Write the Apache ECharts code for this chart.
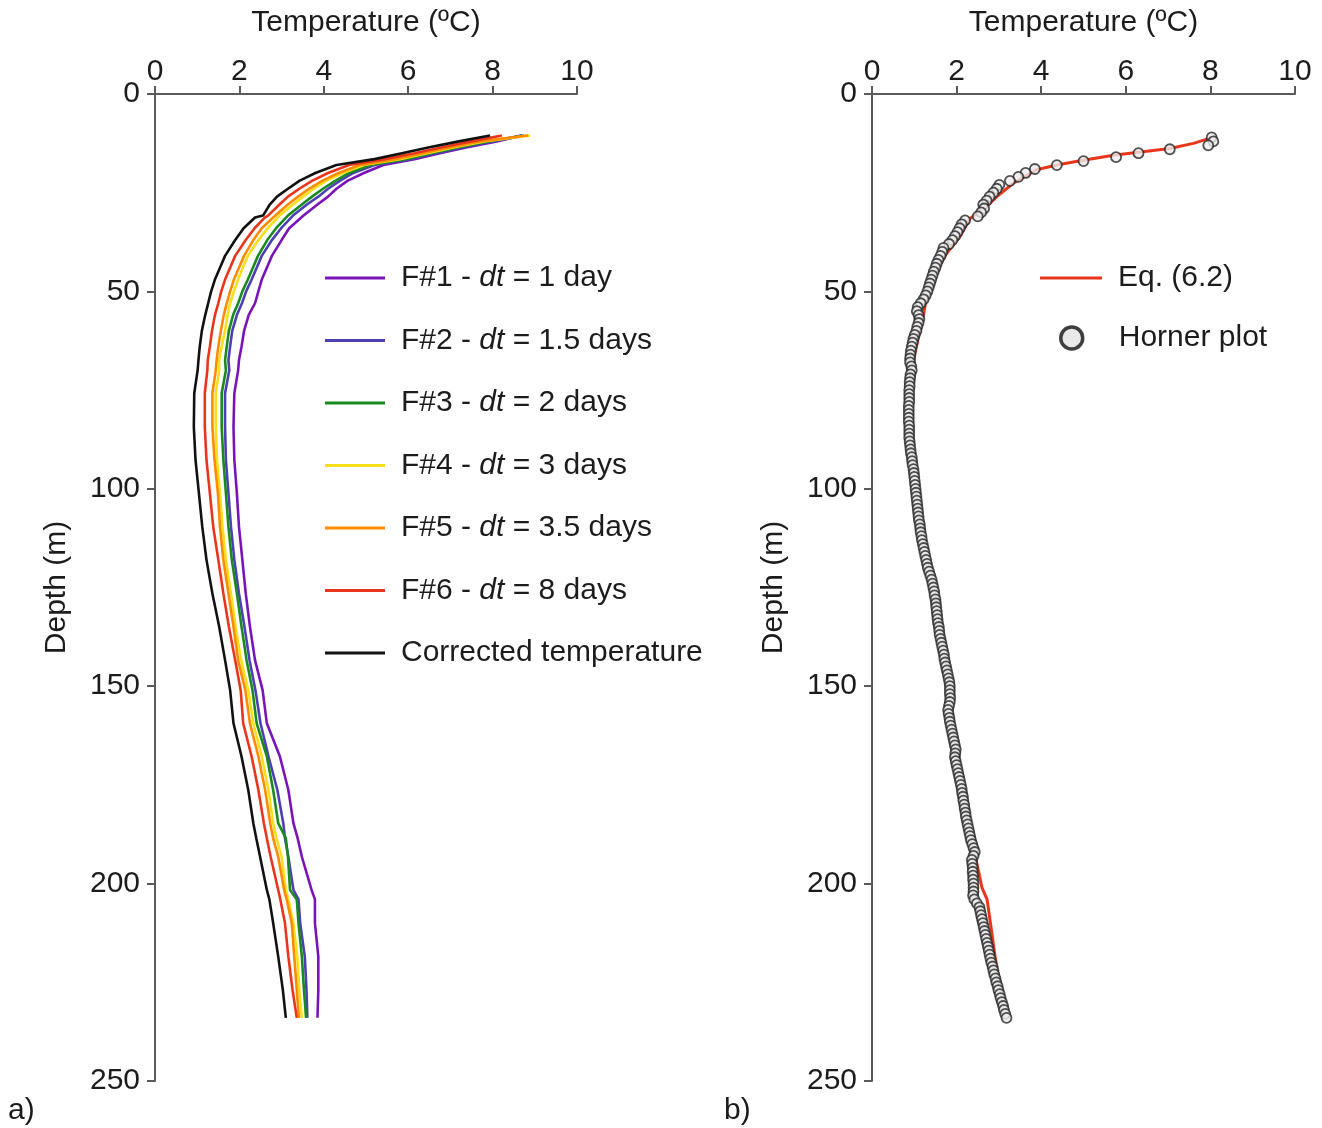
<!DOCTYPE html>
<html><head><meta charset="utf-8">
<script src="https://cdn.jsdelivr.net/npm/echarts@6/dist/echarts.min.js"></script>
<style>html,body{margin:0;padding:0;background:#fff}#c{width:1322px;height:1128px}</style>
</head><body><div id="c"></div>
<script>
// ---------- Panel a) ----------
const depthA = [10.5, 12, 13.5, 15, 16.5, 18, 20, 22, 24, 26, 28, 30.8, 31.3, 34, 37, 41, 44, 47, 50, 53, 56, 60, 64, 67.4, 70, 75.8, 84.3, 92.7, 101.1, 109.6, 118, 126.5, 134.9, 143.4, 151, 159.4, 167.8, 176.3, 184.7, 188.5, 193.2, 201.6, 204, 210, 218.5, 227, 234];
const tempF1 = [8.7, 8.1, 7.4, 6.75, 6.15, 5.41, 4.95, 4.56, 4.3, 4.1, 3.85, 3.52, 3.48, 3.18, 3.0, 2.77, 2.65, 2.53, 2.45, 2.37, 2.22, 2.11, 2.05, 1.99, 1.97, 1.88, 1.86, 1.88, 1.94, 1.99, 2.07, 2.15, 2.25, 2.37, 2.55, 2.65, 2.96, 3.16, 3.28, 3.38, 3.48, 3.71, 3.79, 3.79, 3.87, 3.87, 3.85];
const tempF2 = [8.69, 8.0, 7.3, 6.65, 6.05, 5.2, 4.7, 4.38, 4.1, 3.87, 3.6, 3.27, 3.24, 2.99, 2.77, 2.53, 2.41, 2.29, 2.16, 2.06, 1.94, 1.83, 1.78, 1.74, 1.76, 1.66, 1.66, 1.68, 1.74, 1.80, 1.88, 1.99, 2.12, 2.24, 2.38, 2.50, 2.69, 2.90, 3.04, 3.08, 3.16, 3.28, 3.40, 3.44, 3.55, 3.59, 3.61];
const tempF3 = [8.75, 7.9, 7.2, 6.55, 5.95, 5.1, 4.6, 4.27, 3.98, 3.72, 3.48, 3.15, 3.12, 2.87, 2.66, 2.44, 2.32, 2.20, 2.07, 1.97, 1.85, 1.75, 1.70, 1.66, 1.68, 1.58, 1.58, 1.62, 1.68, 1.74, 1.82, 1.94, 2.05, 2.17, 2.31, 2.41, 2.65, 2.80, 2.92, 3.10, 3.15, 3.20, 3.36, 3.40, 3.48, 3.53, 3.58];
const tempF4 = [8.89, 7.8, 7.1, 6.45, 5.8, 4.95, 4.45, 4.05, 3.76, 3.51, 3.27, 2.95, 2.91, 2.67, 2.45, 2.20, 2.08, 1.97, 1.87, 1.78, 1.72, 1.66, 1.58, 1.52, 1.52, 1.44, 1.44, 1.47, 1.54, 1.60, 1.68, 1.80, 1.91, 2.04, 2.21, 2.33, 2.53, 2.69, 2.80, 2.88, 3.00, 3.10, 3.16, 3.28, 3.37, 3.42, 3.48];
const tempF5 = [8.84, 7.7, 7.0, 6.35, 5.7, 4.85, 4.35, 3.96, 3.65, 3.39, 3.15, 2.85, 2.80, 2.53, 2.33, 2.11, 1.99, 1.87, 1.78, 1.70, 1.63, 1.56, 1.50, 1.46, 1.44, 1.36, 1.36, 1.41, 1.49, 1.54, 1.62, 1.74, 1.86, 1.97, 2.14, 2.25, 2.45, 2.61, 2.73, 2.80, 2.92, 3.06, 3.12, 3.24, 3.30, 3.36, 3.41];
const tempF6 = [8.22, 7.5, 6.8, 6.15, 5.45, 4.6, 4.1, 3.72, 3.42, 3.15, 2.95, 2.68, 2.6, 2.36, 2.15, 1.90, 1.78, 1.66, 1.57, 1.50, 1.42, 1.35, 1.30, 1.25, 1.24, 1.18, 1.18, 1.22, 1.30, 1.38, 1.50, 1.62, 1.75, 1.90, 2.03, 2.09, 2.29, 2.45, 2.58, 2.65, 2.74, 2.92, 2.97, 3.08, 3.16, 3.26, 3.36];
const tempCorr = [7.94, 7.2, 6.5, 5.85, 5.2, 4.3, 3.8, 3.42, 3.15, 2.89, 2.72, 2.56, 2.37, 2.1, 1.9, 1.66, 1.54, 1.42, 1.33, 1.26, 1.19, 1.11, 1.06, 1.03, 1.01, 0.93, 0.92, 0.96, 1.04, 1.12, 1.22, 1.36, 1.52, 1.66, 1.78, 1.86, 2.05, 2.21, 2.33, 2.40, 2.49, 2.65, 2.71, 2.80, 2.92, 3.03, 3.10];
const namesA = ['F#1 - dt = 1 day', 'F#2 - dt = 1.5 days', 'F#3 - dt = 2 days', 'F#4 - dt = 3 days', 'F#5 - dt = 3.5 days', 'F#6 - dt = 8 days', 'Corrected temperature'];
const colorsA = ['#7a14b8', '#4d3fb4', '#1a8a1f', '#f7e01a', '#ff8c00', '#e8361c', '#111111'];

// ---------- Panel b) ----------
const eqDepth = [11, 12.5, 13.8, 15.5, 16.9, 18, 19.2, 22.6, 26, 28.5, 31.5, 36.1, 40.3, 46.3, 51.3, 56.4, 61.5, 67.4, 75, 85, 95, 105, 115, 120, 125, 130, 135, 140, 145, 150, 155, 160, 170, 180, 190, 196, 201, 204, 210, 218.5, 226, 234];
const eqTemp = [8.05, 7.6, 7.04, 5.71, 4.92, 4.37, 3.89, 3.34, 2.95, 2.71, 2.32, 2.08, 1.77, 1.45, 1.29, 1.21, 1.10, 0.98, 0.90, 0.89, 0.98, 1.10, 1.24, 1.34, 1.43, 1.55, 1.62, 1.70, 1.78, 1.84, 1.86, 1.88, 2.02, 2.18, 2.38, 2.50, 2.60, 2.72, 2.80, 2.91, 3.02, 3.12];
const hornerDepth = [11,12,13,14,15,16,17,18,19,20,
21,22,23,24,25,26,27,28,29,30,31,32,33,34,35,36,37,38,39,40,
41,42,43,44,45,46,47,48,49,50,51,52,53,54,55,56,57,58,59,60,
61,62,63,64,65,66,67,68,69,70,71,72,73,74,75,76,77,78,79,80,
81,82,83,84,85,86,87,88,89,90,91,92,93,94,95,96,97,98,99,100,
101,102,103,104,105,106,107,108,109,110,111,112,113,114,115,116,117,118,119,120,
121,122,123,124,125,126,127,128,129,130,131,132,133,134,135,136,137,138,139,140,
141,142,143,144,145,146,147,148,149,150,151,152,153,154,155,156,157,158,159,160,
161,162,163,164,165,166,167,168,169,170,171,172,173,174,175,176,177,178,179,180,
181,182,183,184,185,186,187,188,189,190,191,192,193,194,195,196,197,198,199,200,
201,202,203,204,205,206,207,208,209,210,211,212,213,214,215,216,217,218,219,220,
221,222,223,224,225,226,227,228,229,230,231,232,233,234];
const hornerTemp = [8.03, 8.07, 7.95, 7.04, 6.30, 5.77, 5.00, 4.37, 3.85, 3.63,
3.46, 3.26, 3.01, 2.95, 2.87, 2.78, 2.71, 2.63, 2.65, 2.58,
2.50, 2.20, 2.12, 2.07, 2.02, 1.96, 1.90, 1.82, 1.69, 1.66,
1.62, 1.57, 1.53, 1.50, 1.46, 1.43, 1.40, 1.37, 1.34, 1.31,
1.27, 1.22, 1.15, 1.08, 1.06, 1.10, 1.12, 1.10, 1.07, 1.05,
1.01, 0.98, 0.96, 0.94, 0.92, 0.91, 0.90, 0.90, 0.93, 0.94,
0.91, 0.90, 0.89, 0.89, 0.88, 0.88, 0.88, 0.88, 0.87, 0.87,
0.87, 0.87, 0.87, 0.88, 0.88, 0.88, 0.88, 0.89, 0.90, 0.91,
0.92, 0.94, 0.95, 0.96, 0.98, 0.99, 1.00, 1.01, 1.02, 1.03,
1.04, 1.05, 1.06, 1.07, 1.08, 1.09, 1.10, 1.11, 1.13, 1.14,
1.15, 1.17, 1.18, 1.20, 1.22, 1.24, 1.26, 1.28, 1.30, 1.32,
1.35, 1.38, 1.41, 1.43, 1.45, 1.47, 1.48, 1.50, 1.51, 1.52,
1.53, 1.54, 1.55, 1.56, 1.58, 1.59, 1.60, 1.62, 1.64, 1.66,
1.68, 1.70, 1.71, 1.73, 1.75, 1.77, 1.79, 1.81, 1.83, 1.84,
1.84, 1.84, 1.85, 1.84, 1.82, 1.80, 1.81, 1.83, 1.84, 1.86,
1.88, 1.90, 1.92, 1.94, 1.96, 1.98, 1.97, 1.96, 1.98, 2.00,
2.02, 2.04, 2.06, 2.08, 2.10, 2.12, 2.13, 2.15, 2.16, 2.18,
2.19, 2.21, 2.22, 2.24, 2.26, 2.28, 2.30, 2.32, 2.34, 2.37,
2.40, 2.43, 2.40, 2.36, 2.37, 2.38, 2.38, 2.39, 2.39, 2.40,
2.40, 2.40, 2.39, 2.42, 2.48, 2.54, 2.56, 2.58, 2.60, 2.62,
2.64, 2.66, 2.68, 2.70, 2.72, 2.74, 2.76, 2.78, 2.80, 2.82,
2.85, 2.87, 2.89, 2.92, 2.94, 2.97, 2.99, 3.02, 3.04, 3.07,
3.10, 3.12, 3.15, 3.18];

const xTicks = [0, 2, 4, 6, 8, 10];
const yTicks = [0, 50, 100, 150, 200, 250];

const FONT = '"Liberation Sans", Arial, sans-serif';
const TXT = '#1c1c1c';
const AX = '#5a5a5a';

function pairs(xs, ys) { return xs.map((t, i) => [t, ys[i]]); }

function xAxisCfg(gi) {
  return {
    gridIndex: gi, type: 'value', position: 'top', min: xTicks[0], max: xTicks[xTicks.length - 1], interval: 2,
    name: 'Temperature (ºC)', nameLocation: 'middle', nameGap: 56,
    nameTextStyle: { fontSize: 30, color: TXT, fontFamily: FONT },
    axisLine: { show: true, onZero: false, lineStyle: { color: AX, width: 2 } },
    axisTick: { show: true, inside: false, length: 8, lineStyle: { color: AX, width: 2 } },
    axisLabel: { fontSize: 30, color: TXT, fontFamily: FONT, margin: 7 },
    splitLine: { show: false }
  };
}
function yAxisCfg(gi) {
  return {
    gridIndex: gi, type: 'value', inverse: true, min: yTicks[0], max: yTicks[yTicks.length - 1], interval: 50,
    name: 'Depth (m)', nameLocation: 'middle', nameGap: 83,
    nameTextStyle: { fontSize: 30, color: TXT, fontFamily: FONT },
    axisLine: { show: true, onZero: false, lineStyle: { color: AX, width: 2 } },
    axisTick: { show: true, inside: false, length: 8, lineStyle: { color: AX, width: 2 } },
    axisLabel: { fontSize: 30, color: TXT, fontFamily: FONT, margin: 15 },
    splitLine: { show: false }
  };
}

const tempsA = [tempF1, tempF2, tempF3, tempF4, tempF5, tempF6, tempCorr];
const seriesA = tempsA.map((arr, i) => ({
  name: namesA[i], type: 'line', xAxisIndex: 0, yAxisIndex: 0,
  data: pairs(arr, depthA), symbol: 'none', showSymbol: false, smooth: false,
  color: colorsA[i], lineStyle: { color: colorsA[i], width: 2.6 }, z: 2 + (i === 6 ? 1 : 0)
}));

const legendText = { fontSize: 30, color: TXT, fontFamily: FONT, lineHeight: 32, padding: [0, 0, 0, 11] };

const chart = echarts.init(document.getElementById('c'), null, { renderer: 'canvas' });
chart.setOption({
  backgroundColor: '#ffffff',
  animation: false,
  textStyle: { fontFamily: FONT },
  grid: [
    { left: 155, top: 94, width: 422, height: 987, outerBoundsMode: 'none', containLabel: false },
    { left: 872, top: 94, width: 423, height: 987, outerBoundsMode: 'none', containLabel: false }
  ],
  xAxis: [xAxisCfg(0), xAxisCfg(1)],
  yAxis: [yAxisCfg(0), yAxisCfg(1)],
  legend: [
    {
      data: namesA, orient: 'vertical', left: 320, top: 257,
      icon: 'rect', itemWidth: 60, itemHeight: 3, itemGap: 30.5,
      selectedMode: false,
      textStyle: Object.assign({}, legendText, {
        rich: { i: { fontSize: 30, fontStyle: 'italic', color: TXT, fontFamily: FONT, lineHeight: 32 } } }),
      formatter: function (n) { return n.replace(' dt ', ' {i|dt} '); }
    },
    {
      data: ['Eq. (6.2)'], orient: 'vertical', left: 1035, top: 257,
      icon: 'rect', itemWidth: 62, itemHeight: 3, selectedMode: false,
      textStyle: legendText
    },
    {
      data: [{ name: 'Horner plot', icon: 'circle', itemStyle: { color: '#e4e4e4', borderColor: '#111', borderWidth: 3.5 } }],
      orient: 'vertical', left: 1054, top: 317,
      itemWidth: 62, itemHeight: 22, selectedMode: false,
      textStyle: legendText
    }
  ],
  series: seriesA.concat([
    {
      name: 'Eq. (6.2)', type: 'line', xAxisIndex: 1, yAxisIndex: 1,
      data: pairs(eqTemp, eqDepth), symbol: 'none', showSymbol: false,
      color: '#e8361c', lineStyle: { color: '#e8361c', width: 3 }, z: 2
    },
    {
      name: 'Horner plot', type: 'scatter', xAxisIndex: 1, yAxisIndex: 1,
      data: pairs(hornerTemp, hornerDepth), symbol: 'circle', symbolSize: 10,
      itemStyle: { color: '#ececec', borderColor: '#262626', borderWidth: 1.8 }, z: 3
    }
  ]),
  graphic: [
    { type: 'text', left: 8, top: 1096, style: { text: 'a)', fontSize: 30, fill: TXT, fontFamily: FONT } },
    { type: 'text', left: 724, top: 1096, style: { text: 'b)', fontSize: 30, fill: TXT, fontFamily: FONT } }
  ]
});
</script>
</body></html>
